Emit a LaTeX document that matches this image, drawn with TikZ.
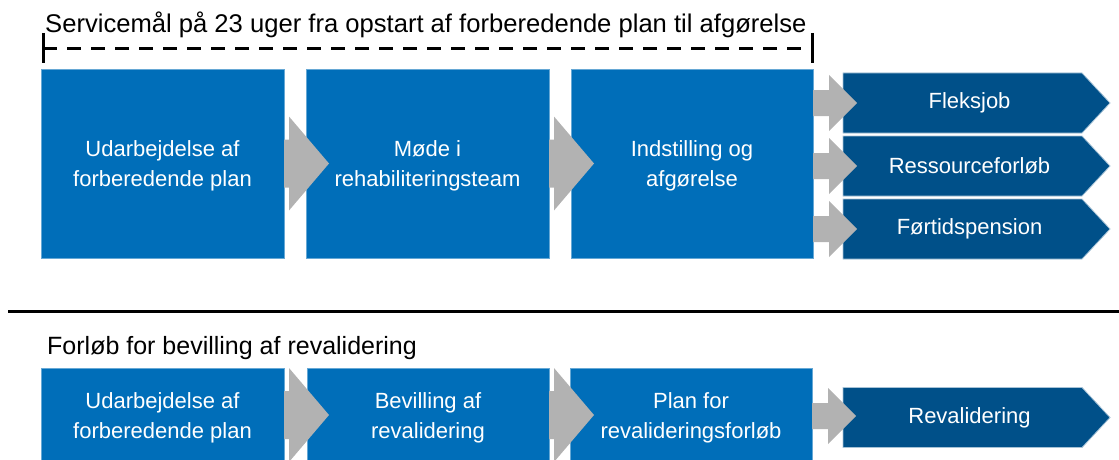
\documentclass[tikz,border=0pt]{standalone}
\usepackage{fontspec}
\setmainfont{Liberation Sans}
\usetikzlibrary{calc,shapes.symbols}

\definecolor{stepblue}{RGB}{0,110,185}
\definecolor{outblue}{RGB}{0,80,137}
\definecolor{arrowgray}{RGB}{178,178,178}

\tikzset{
  steptext/.style={text=white, align=center, yshift=-2.5pt, font=\fontsize{22}{30}\selectfont},
  stepbox/.style={fill=stepblue, draw=stepblue!60!white, line width=0.5pt,
    inner sep=0pt, outer sep=0pt, label={[steptext]center:#1}},
  outbox/.style={signal, signal to=east, signal pointer angle=94, fill=outblue,
    draw=outblue!35!white, line width=0.8pt, text=white, inner sep=0pt, outer sep=0pt,
    minimum width=267pt, minimum height=60pt, anchor=west, font=\fontsize{22}{30}\selectfont,
    execute at begin node={\hspace*{14pt}}},
  grayarrow/.style={fill=arrowgray},
  headline/.style={inner sep=0pt, font=\fontsize{25}{30}\selectfont}
}

\begin{document}
\begin{tikzpicture}[x=1pt, y=-1pt]
            \useasboundingbox (0,0) rectangle (1119,460);

            \node[headline, font=\fontsize{25.6}{30}\selectfont, anchor=base west] (title1) at (45,33) {Servicemål på 23 uger fra opstart af forberedende plan til afgørelse};
            \coordinate (bl) at (43,49);
            \coordinate (br) at (812,49);
            \draw[line width=3pt, dash pattern=on 14pt off 10pt] (bl) -- (br);
            \draw[line width=3pt] ($(bl)+(0,-16)$) -- ($(bl)+(0,14)$);
            \draw[line width=3pt] ($(br)+(0,-16)$) -- ($(br)+(0,14)$);

            \node[stepbox={Udarbejdelse af\\forberedende plan}, minimum width=243pt, minimum height=189pt] (b1) at (162.5,163.5) {};
            \node[stepbox={Møde i\\rehabiliteringsteam}, minimum width=243pt, minimum height=189pt] (b2) at (427.5,163.5) {};
            \node[stepbox={Indstilling og\\afgørelse}, minimum width=242pt, minimum height=189pt] (b3) at (692,163.5) {};

            \node[outbox] (f1) at (843,103) {Fleksjob};
            \node[outbox] (f2) at (843,166) {Ressourceforløb};
            \node[outbox] (f3) at (843,229) {Førtidspension};

            \coordinate (s1) at (8,311);
            \coordinate (s2) at (1119,311);
            \draw[line width=3pt] (s1) -- (s2);

            \node[headline, anchor=base west] (title2) at (47,354) {Forløb for bevilling af revalidering};

            \node[stepbox={Udarbejdelse af\\forberedende plan}, minimum width=243pt, minimum height=94pt] (c1) at (162.5,415) {};
            \node[stepbox={Bevilling af\\revalidering}, minimum width=242pt, minimum height=94pt] (c2) at (428,415) {};
            \node[stepbox={Plan for\\revalideringsforløb}, minimum width=242pt, minimum height=94pt] (c3) at (691,415) {};

            \node[outbox] (r1) at (843,417.5) {Revalidering};

            \foreach \a in {b1,b2,c1,c2}
              \fill[grayarrow] ($(\a.east)+(0,-24)$) -- ++(5,0) -- ++(0,-23) -- ++(40,47) -- ++(-40,47) -- ++(0,-23) -- ++(-5,0) -- cycle;

            \foreach \t in {f1,f2,f3}
              \fill[grayarrow] ($(b3.east |- \t.west)+(0,-13)$) -- ++(16,0) -- ++(0,-15) -- ++(28,28) -- ++(-28,28) -- ++(0,-15) -- ++(-16,0) -- cycle;

            \fill[grayarrow] ($(c3.east)+(0,-12)$) -- ++(16,0) -- ++(0,-15) -- ++(28,28) -- ++(-28,28) -- ++(0,-15) -- ++(-16,0) -- cycle;
        \end{tikzpicture}
\end{document}
